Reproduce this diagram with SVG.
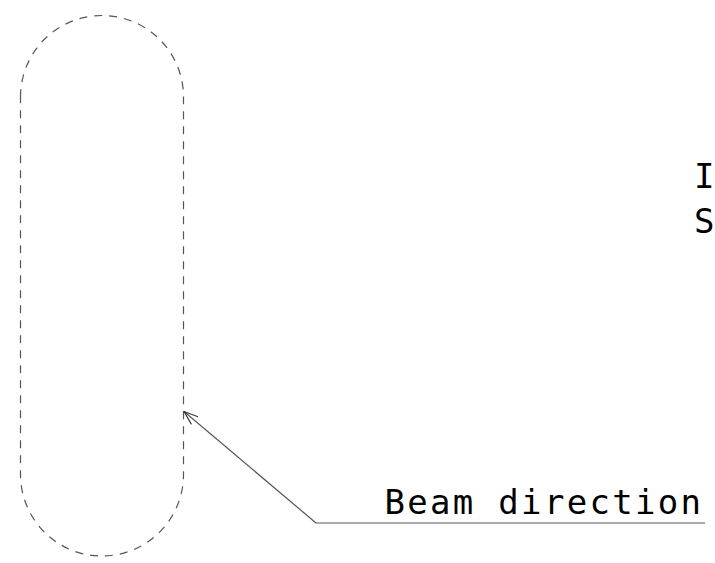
<svg xmlns="http://www.w3.org/2000/svg" width="715" height="563" viewBox="0 0 715 563">
<style>
.t{font-family:"DejaVu Sans Mono","Liberation Mono",monospace;font-size:34px;fill:#000}
.sp{letter-spacing:2.3px}
.ln{stroke:#555;stroke-width:1.2;fill:none}
.dash{stroke:#555;stroke-width:1.2;fill:none;stroke-dasharray:8 7}
</style>
<defs>
<marker id="open" markerWidth="16" markerHeight="12" refX="15" refY="6" orient="auto" markerUnits="userSpaceOnUse">
<path d="M1,1 L15,6 L1,11" fill="none" stroke="#333" stroke-width="1.1"/>
</marker>
</defs>
<rect width="715" height="563" fill="#fff"/>
<g id="beam-region">
<path class="dash" d="M20.5,97 A81.5,81.5 0 0 1 183.5,97 L183.5,474.5 A81.5,81.5 0 0 1 20.5,474.5 Z"/>
</g>
<g id="labels">
<text class="t" x="694" y="188">I</text>
<text class="t" x="694" y="233">S</text>
<text id="beam-direction" class="t sp" x="384.5" y="514">Beam direction</text>
</g>
<g id="connectors">
<line class="ln" x1="316" y1="523" x2="705" y2="523"/>
<line class="ln" x1="316" y1="523" x2="184" y2="411.5" marker-end="url(#open)"/>
</g>
</svg>
